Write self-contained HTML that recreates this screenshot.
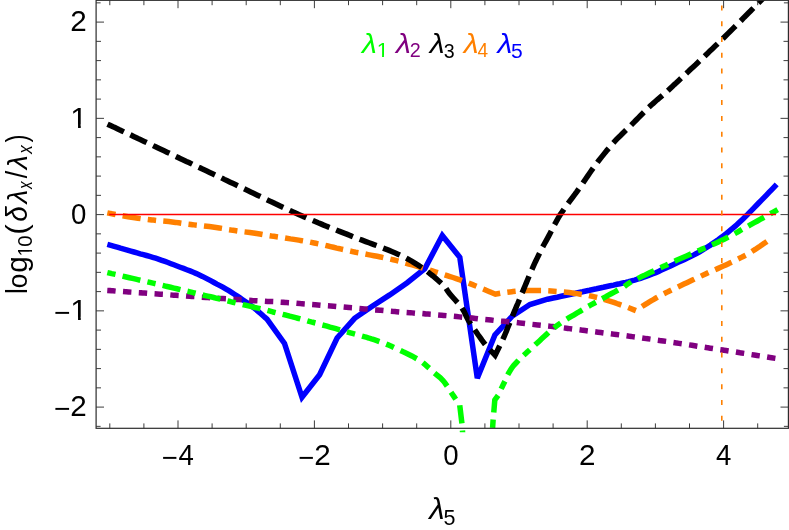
<!DOCTYPE html>
<html><head><meta charset="utf-8"><title>plot</title>
<style>
html,body{margin:0;padding:0;background:#fff;}
svg{display:block;will-change:transform;}
text{font-family:"Liberation Sans",sans-serif;}
</style></head><body>
<svg width="789" height="530" viewBox="0 0 789 530">
<rect x="0" y="0" width="789" height="530" fill="#fff"/>
<defs><clipPath id="cp"><rect x="90" y="-5" width="700" height="437.3"/></clipPath></defs>

<g clip-path="url(#cp)" fill="none" stroke-linejoin="miter" stroke-miterlimit="3.3" stroke-linecap="square">
<polyline points="110.0,245.2 111.8,245.7 114.3,246.4 117.2,247.2 120.5,248.2 123.9,249.1 127.4,250.1 130.8,251.1 134.0,252.0 137.1,252.9 140.2,253.8 143.4,254.6 146.5,255.5 149.7,256.4 152.7,257.3 155.6,258.2 158.4,259.1 161.8,260.3 165.0,261.4 168.0,262.5 171.0,263.7 173.9,264.8 177.0,266.0 180.2,267.2 183.5,268.4 186.8,269.7 190.0,270.9 193.3,272.3 196.4,273.6 199.4,275.0 202.4,276.4 205.3,277.9 208.2,279.4 211.1,280.9 214.0,282.5 216.9,284.1 219.9,285.6 222.8,287.2 225.7,288.9 228.8,290.7 231.9,292.6 234.4,294.2 236.9,295.8 239.6,297.6 242.2,299.4 244.9,301.2 247.5,303.0 249.9,304.8 252.2,306.5 255.2,308.8 258.1,311.3 260.9,313.7 263.4,316.0 265.5,317.8 267.0,319.2 284.5,343.5 302.0,397.3 319.6,374.8 337.1,338.0 354.6,318.3 372.2,306.3 389.7,294.9 407.2,282.7 424.8,268.7 442.3,235.5 459.8,257.3 477.3,378.2 494.9,335.0 512.4,316.0 529.9,304.5 547.5,299.2 549.9,298.7 553.2,298.0 557.2,297.2 561.2,296.3 565.0,295.5 568.5,294.8 572.0,294.0 575.5,293.3 579.0,292.5 582.5,291.8 586.0,291.0 589.5,290.3 593.0,289.5 596.5,288.8 600.0,288.0 603.4,287.3 606.8,286.5 610.2,285.8 613.6,285.1 617.0,284.3 619.9,283.7 622.8,283.0 625.7,282.4 628.7,281.7 631.6,280.9 634.6,280.1 637.6,279.2 640.6,278.3 643.7,277.2 646.7,276.2 649.9,275.0 653.0,273.8 655.8,272.7 658.6,271.4 661.4,270.1 664.3,268.8 667.1,267.5 669.9,266.2 672.6,264.9 675.7,263.5 678.7,262.1 681.7,260.7 684.6,259.4 687.4,258.1 690.0,256.8 693.5,255.1 696.5,253.5 699.6,251.8 703.1,249.7 705.4,248.3 707.8,246.7 710.4,245.1 713.0,243.3 715.6,241.5 718.2,239.7 720.8,237.8 723.3,235.9 725.9,233.9 728.4,231.8 731.0,229.7 733.5,227.6 736.1,225.4 738.6,223.1 740.8,221.0 743.0,218.9 745.2,216.8 747.4,214.6 749.6,212.3 751.8,210.1 754.0,207.8 756.3,205.5 758.7,203.0 761.3,200.4 764.0,197.6 766.7,194.8 769.2,192.2 771.5,189.8 773.4,187.8 774.8,186.3" stroke="#0000ff" stroke-width="5.5"/>
<polyline points="110.0,213.4 111.9,213.8 114.6,214.3 117.7,214.9 121.1,215.5 124.7,216.2 128.1,216.8 131.3,217.3 134.8,217.8 138.2,218.3 141.6,218.7 145.0,219.1 148.4,219.5 151.8,219.9 155.2,220.3 158.6,220.6 162.0,220.9 165.4,221.3 168.8,221.6 172.2,222.0 175.6,222.4 179.0,222.9 182.4,223.3 185.7,223.8 189.1,224.3 192.5,224.7 195.9,225.1 199.2,225.5 202.6,225.8 206.0,226.2 209.3,226.6 212.7,227.0 216.1,227.5 219.5,228.0 222.8,228.6 226.2,229.2 229.6,229.8 233.0,230.3 236.4,230.8 239.8,231.2 243.2,231.7 246.5,232.1 249.9,232.5 253.3,233.0 256.7,233.5 260.1,234.1 263.5,234.6 266.8,235.2 270.2,235.8 273.6,236.3 277.0,236.8 280.4,237.3 283.8,237.8 287.1,238.3 290.5,238.9 293.9,239.4 297.1,239.9 300.1,240.4 303.1,240.9 306.3,241.5 309.9,242.1 314.2,243.0 316.6,243.5 319.1,244.1 321.8,244.7 324.6,245.3 327.5,245.9 330.5,246.6 333.5,247.3 336.7,248.1 339.9,248.8 343.2,249.5 346.6,250.3 350.0,251.0 352.8,251.6 355.6,252.2 358.6,252.7 361.6,253.3 364.6,253.9 367.7,254.5 370.8,255.1 374.0,255.7 377.2,256.3 380.4,257.0 383.6,257.7 386.8,258.4 390.0,259.1 393.2,259.8 396.4,260.6 399.4,261.4 402.5,262.2 405.7,263.1 408.9,264.0 412.2,264.9 415.5,265.9 418.8,266.8 422.0,267.8 425.2,268.8 428.4,269.7 431.5,270.7 434.4,271.6 437.3,272.5 440.0,273.3 442.6,274.1 445.0,274.9 449.3,276.3 453.0,277.5 456.2,278.6 459.1,279.6 461.9,280.6 464.5,281.6 467.3,282.7 470.3,283.8 473.2,284.9 476.4,286.2 479.6,287.5 482.8,288.9 486.0,290.2 488.9,291.4 491.5,292.6 493.7,293.5 495.4,294.2 497.6,293.8 500.6,293.3 504.2,292.7 508.0,292.2 511.9,291.7 514.7,291.4 517.7,291.2 520.9,291.0 524.1,290.8 527.2,290.6 530.3,290.5 533.2,290.4 536.9,290.4 540.4,290.4 543.8,290.6 547.3,290.8 551.0,291.0 553.9,291.2 556.8,291.4 559.9,291.7 563.0,292.0 566.1,292.3 569.2,292.6 572.3,293.0 575.4,293.4 578.5,293.9 581.6,294.4 584.7,294.9 587.8,295.4 590.7,296.0 593.6,296.6 596.9,297.4 600.1,298.2 603.2,299.1 606.2,300.0 608.9,300.9 611.3,301.6 614.6,302.6 616.9,303.5 620.0,304.6 623.0,305.7 626.6,307.0 630.4,308.4 633.7,309.7 636.0,310.5 637.9,309.2 640.9,307.2 645.0,304.6 647.1,303.3 649.4,301.9 651.9,300.5 654.6,298.8 657.6,297.1 661.1,295.2 665.0,293.2 667.2,292.1 669.6,290.9 672.2,289.6 675.0,288.3 677.9,286.9 680.9,285.5 683.9,284.1 686.9,282.7 689.9,281.3 692.8,279.9 695.6,278.6 698.3,277.3 700.8,276.2 703.1,275.1 706.7,273.4 709.9,272.0 712.9,270.7 715.6,269.5 718.2,268.4 720.7,267.3 723.3,266.1 725.9,264.9 729.0,263.4 732.1,262.0 735.1,260.5 738.1,259.0 740.9,257.6 743.7,256.2 746.2,254.8 749.5,252.9 752.5,251.1 755.2,249.4 757.7,247.7 760.0,246.2 763.5,243.8 766.4,241.8 768.3,240.4" stroke="#ff8000" stroke-width="5.5" stroke-dasharray="2.9 12.700 12.700 12.700"/>
<polyline points="110.0,125.3 111.5,126.0 113.1,126.8 114.9,127.6 116.8,128.5 118.8,129.5 121.0,130.5 123.3,131.6 125.7,132.7 128.2,133.9 130.9,135.1 133.6,136.4 136.4,137.7 139.2,139.1 142.2,140.5 145.2,141.9 148.2,143.3 151.3,144.8 154.5,146.3 157.6,147.8 160.8,149.3 164.1,150.8 167.3,152.3 170.5,153.9 173.7,155.4 176.9,156.9 180.1,158.4 183.3,159.9 186.4,161.4 189.5,162.8 192.6,164.3 195.6,165.7 198.5,167.1 201.3,168.4 204.1,169.7 206.8,171.0 209.7,172.4 212.6,173.8 215.5,175.1 218.5,176.5 221.4,177.9 224.3,179.4 227.3,180.8 230.2,182.2 233.2,183.6 236.1,185.0 239.0,186.4 242.0,187.8 244.9,189.2 247.8,190.6 250.7,192.0 253.5,193.3 256.4,194.7 259.2,196.0 262.0,197.4 264.7,198.7 267.5,200.0 270.2,201.3 272.9,202.5 275.5,203.8 278.1,205.0 280.6,206.2 283.2,207.4 285.6,208.5 288.0,209.6 290.4,210.7 292.7,211.8 295.0,212.8 298.7,214.5 302.2,216.0 305.6,217.5 308.9,218.9 312.1,220.3 315.1,221.5 318.1,222.8 320.9,223.9 323.7,225.1 326.5,226.2 329.2,227.3 331.8,228.3 334.4,229.3 337.0,230.3 339.6,231.4 342.1,232.4 344.7,233.4 347.4,234.4 350.0,235.5 353.2,236.8 356.4,238.0 359.5,239.2 362.7,240.4 365.8,241.6 369.0,242.8 372.0,243.9 375.1,245.0 378.0,246.2 380.9,247.2 383.7,248.3 386.5,249.4 389.1,250.4 391.7,251.5 394.1,252.5 396.4,253.5 400.2,255.2 403.5,256.8 406.6,258.4 409.4,259.9 412.0,261.3 414.4,262.8 416.8,264.3 419.2,265.9 421.7,267.5 424.6,269.5 427.4,271.6 430.2,273.8 433.0,276.0 435.5,278.1 437.9,280.2 440.1,282.2 442.0,283.9 444.7,286.7 446.2,288.8 447.6,290.9 449.5,293.5 451.4,295.7 453.6,298.2 456.0,300.9 458.3,303.5 460.5,306.1 462.3,308.5 464.1,311.5 465.3,314.1 466.5,316.9 468.5,320.5 470.0,322.8 471.8,325.5 473.7,328.4 475.8,331.4 477.9,334.5 480.0,337.4 481.9,340.1 483.7,342.5 486.4,345.9 489.1,348.9 491.5,351.5 493.6,353.7 495.1,355.3 496.1,353.3 497.4,350.6 499.0,347.3 500.8,343.8 502.5,340.2 504.0,336.8 505.2,334.0 506.4,331.1 507.6,328.1 508.8,325.2 510.0,322.2 511.1,319.4 512.2,316.7 513.4,313.9 514.4,311.4 515.5,309.0 516.5,306.4 517.8,303.5 519.2,300.1 520.2,297.7 521.3,294.9 522.5,292.0 523.8,288.9 525.1,285.8 526.4,282.6 527.7,279.5 528.9,276.5 530.1,273.7 531.2,271.1 532.9,267.3 534.4,263.9 535.9,260.8 537.3,257.9 538.7,255.0 540.1,252.1 541.5,249.3 542.9,246.6 544.3,244.0 545.8,241.3 547.3,238.6 548.9,235.6 550.3,232.9 551.8,230.1 553.2,227.2 554.8,224.2 556.5,221.1 558.3,217.9 560.3,214.6 561.9,212.2 563.5,209.8 565.3,207.2 567.2,204.7 569.1,202.1 571.1,199.4 573.0,196.8 575.0,194.2 576.9,191.6 578.7,189.0 580.5,186.4 582.3,183.9 584.1,181.3 585.8,178.7 587.6,176.1 589.4,173.5 591.1,171.0 592.9,168.5 594.6,166.1 596.4,163.7 598.4,161.1 600.3,158.6 602.3,156.1 604.3,153.6 606.2,151.2 608.2,148.9 610.2,146.6 612.1,144.3 614.1,142.1 616.3,139.7 618.5,137.4 620.8,135.2 623.0,133.0 625.2,130.9 627.5,128.7 629.7,126.6 631.9,124.4 634.1,122.2 636.2,120.0 638.3,117.8 640.4,115.7 642.6,113.5 644.8,111.2 647.1,109.0 649.6,106.6 651.6,104.8 653.5,103.1 655.3,101.5 657.2,99.8 659.2,98.1 661.3,96.3 663.7,94.3 666.3,91.9 669.3,89.3 672.6,86.2 674.3,84.6 676.1,83.0 678.0,81.2 679.9,79.4 682.0,77.4 684.1,75.4 686.3,73.4 688.6,71.3 690.9,69.1 693.2,66.9 695.6,64.7 698.0,62.4 700.4,60.1 702.8,57.9 705.2,55.6 707.5,53.4 709.9,51.1 712.2,48.9 714.4,46.8 716.6,44.7 718.7,42.6 720.8,40.6 723.2,38.3 725.5,36.0 727.9,33.6 730.3,31.3 732.7,28.9 735.1,26.5 737.4,24.1 739.8,21.8 742.1,19.5 744.3,17.2 746.5,15.0 748.7,12.8 750.8,10.7 752.8,8.7 754.7,6.7 756.5,4.9 758.3,3.1 759.9,1.5 761.4,0.0 765.5,-4.0 768.7,-7.2 771.2,-9.5 773.2,-11.4 774.7,-12.8 776.0,-14.0" stroke="#000" stroke-width="5.5" stroke-dasharray="12.600 12.600"/>
<polyline points="110.0,290.6 111.7,290.7 113.6,290.9 115.7,291.0 118.1,291.2 120.6,291.4 123.4,291.6 126.3,291.8 129.4,292.0 132.5,292.2 135.8,292.5 139.2,292.7 142.7,292.9 146.2,293.2 149.7,293.5 153.3,293.7 156.8,294.0 160.3,294.2 163.8,294.5 167.2,294.7 170.6,294.9 173.9,295.2 177.0,295.4 180.0,295.6 183.2,295.8 186.5,296.0 189.7,296.3 193.0,296.5 196.3,296.7 199.6,297.0 202.8,297.2 206.1,297.4 209.3,297.6 212.5,297.8 215.7,298.1 218.9,298.3 222.0,298.5 225.1,298.7 228.1,298.9 231.1,299.1 234.0,299.3 236.9,299.5 239.7,299.6 242.4,299.8 245.0,300.0 248.8,300.2 252.3,300.5 255.7,300.7 258.9,300.9 261.9,301.0 264.9,301.2 267.8,301.4 270.7,301.5 273.6,301.7 276.4,301.9 279.4,302.1 282.4,302.3 285.6,302.5 288.9,302.7 291.7,302.9 294.6,303.1 297.4,303.3 300.3,303.6 303.3,303.8 306.2,304.0 309.2,304.3 312.2,304.5 315.3,304.7 318.3,305.0 321.4,305.3 324.5,305.5 327.6,305.8 330.7,306.0 333.8,306.3 336.9,306.5 340.0,306.8 343.0,307.0 346.0,307.3 349.0,307.6 352.1,307.8 355.1,308.1 358.2,308.3 361.3,308.6 364.5,308.9 367.6,309.2 370.7,309.4 373.8,309.7 376.9,310.0 380.0,310.2 383.0,310.5 386.1,310.8 389.1,311.0 392.1,311.3 395.0,311.5 398.2,311.8 401.4,312.0 404.5,312.3 407.5,312.5 410.5,312.7 413.5,313.0 416.5,313.2 419.5,313.4 422.5,313.6 425.5,313.9 428.6,314.1 431.7,314.4 434.9,314.6 438.1,314.9 441.5,315.2 445.0,315.5 447.8,315.8 450.6,316.0 453.5,316.3 456.6,316.6 459.6,316.9 462.8,317.2 465.9,317.5 469.2,317.8 472.4,318.1 475.6,318.5 478.8,318.8 482.1,319.1 485.2,319.4 488.4,319.7 491.5,320.1 494.5,320.4 497.5,320.7 500.4,321.0 503.2,321.3 505.8,321.5 508.4,321.8 512.3,322.2 516.0,322.6 519.4,322.9 522.7,323.3 525.8,323.6 528.9,323.9 531.8,324.3 534.7,324.6 537.7,324.9 540.6,325.2 543.6,325.6 546.7,325.9 550.0,326.3 552.9,326.6 555.8,327.0 558.8,327.3 561.8,327.7 564.7,328.0 567.8,328.4 570.8,328.8 573.8,329.1 576.8,329.5 579.9,329.9 582.9,330.3 585.9,330.7 589.0,331.0 592.0,331.4 595.0,331.8 598.0,332.2 601.0,332.6 604.1,333.0 607.1,333.3 610.2,333.7 613.2,334.1 616.3,334.5 619.3,334.9 622.4,335.3 625.4,335.7 628.4,336.1 631.3,336.5 634.3,336.9 637.1,337.3 640.0,337.7 643.2,338.1 646.3,338.6 649.4,339.0 652.3,339.4 655.3,339.9 658.2,340.3 661.2,340.7 664.1,341.1 667.1,341.6 670.2,342.0 673.3,342.5 676.6,343.0 680.0,343.5 682.9,343.9 685.8,344.4 688.8,344.8 691.9,345.3 695.0,345.8 698.2,346.3 701.4,346.8 704.7,347.3 707.9,347.8 711.2,348.3 714.4,348.8 717.6,349.3 720.8,349.8 723.9,350.2 727.0,350.7 730.0,351.2 733.3,351.7 736.6,352.2 740.1,352.8 743.6,353.3 747.1,353.9 750.6,354.5 754.1,355.0 757.4,355.5 760.7,356.1 763.7,356.6 766.6,357.0 769.2,357.4 771.6,357.8 773.6,358.1 775.3,358.4" stroke="#800080" stroke-width="5.5" stroke-dasharray="2.9 12.900"/>
<polyline points="110.0,273.2 111.7,273.6 113.6,274.0 115.7,274.5 118.1,275.1 120.6,275.7 123.4,276.3 126.3,277.0 129.4,277.7 132.5,278.4 135.8,279.2 139.2,280.0 142.7,280.8 146.2,281.6 149.7,282.4 153.3,283.2 156.8,284.1 160.3,284.9 163.8,285.7 167.2,286.5 170.6,287.3 173.9,288.1 177.0,288.8 180.0,289.5 183.1,290.2 186.2,291.0 189.2,291.7 192.3,292.4 195.4,293.2 198.5,293.9 201.5,294.6 204.6,295.4 207.7,296.1 210.7,296.8 213.7,297.5 216.7,298.3 219.7,299.0 222.6,299.7 225.5,300.4 228.4,301.1 231.3,301.8 234.1,302.5 236.9,303.1 239.6,303.8 242.3,304.5 245.0,305.1 248.4,305.9 251.6,306.7 254.8,307.5 257.9,308.2 261.0,309.0 264.0,309.7 266.9,310.4 269.8,311.1 272.7,311.9 275.5,312.6 278.4,313.3 281.2,314.0 284.1,314.7 286.9,315.4 289.8,316.2 292.7,316.9 295.7,317.7 298.7,318.5 301.8,319.3 304.9,320.2 308.1,321.0 311.2,321.9 314.4,322.7 317.6,323.6 320.7,324.5 323.9,325.4 327.0,326.2 330.0,327.1 333.0,327.9 335.9,328.7 338.7,329.5 341.4,330.3 343.9,331.0 346.4,331.7 350.3,332.8 353.9,333.8 357.2,334.7 360.4,335.6 363.3,336.4 366.1,337.2 368.8,338.0 371.5,338.9 374.1,339.7 376.8,340.6 380.1,341.8 383.2,342.9 386.2,344.1 389.1,345.3 391.9,346.6 394.7,347.8 397.4,349.0 400.1,350.3 403.2,351.8 406.3,353.2 409.3,354.7 412.3,356.2 415.1,357.8 417.8,359.3 420.3,360.9 423.0,362.8 425.5,364.9 427.8,366.9 430.0,368.9 432.1,370.9 434.0,372.6 437.3,375.3 440.1,377.6 443.0,380.5 444.9,382.9 446.9,385.8 448.8,388.8 450.7,391.7 452.5,394.4 454.6,397.5 456.7,400.6 458.5,403.2 459.7,405.0 461.7,421.5 463.2,440.0" stroke="#00ff00" stroke-width="5.5" stroke-dasharray="2.9 12.750 12.750 12.750"/>
<polyline points="775.3,211.0 773.7,211.9 771.7,213.0 769.3,214.4 766.6,215.9 763.7,217.5 760.6,219.2 757.4,221.0 754.3,222.7 751.2,224.4 748.7,225.8 746.2,227.2 743.7,228.6 741.1,230.0 738.5,231.5 735.8,233.0 733.1,234.5 730.2,236.1 727.2,237.6 724.1,239.2 720.8,240.8 718.3,242.0 715.7,243.2 713.0,244.4 710.2,245.6 707.4,246.9 704.5,248.2 701.5,249.4 698.6,250.7 695.5,252.0 692.5,253.3 689.5,254.6 686.5,255.9 683.5,257.2 680.6,258.5 677.7,259.8 674.8,261.1 671.7,262.5 668.6,264.0 665.4,265.5 662.2,266.9 659.0,268.4 655.8,269.9 652.7,271.4 649.6,272.8 646.7,274.2 643.9,275.6 641.2,276.8 638.8,278.0 636.6,279.1 634.6,280.1 629.7,282.7 627.4,284.2 625.6,285.6 622.4,287.6 620.1,288.9 617.5,290.3 614.7,291.9 611.6,293.5 608.5,295.2 605.5,296.9 602.5,298.5 599.6,300.1 597.1,301.5 593.8,303.4 590.8,305.0 588.1,306.6 585.4,308.2 582.5,309.8 579.4,311.7 576.8,313.2 574.1,314.8 571.3,316.4 568.5,318.1 565.6,319.8 562.7,321.6 559.9,323.5 557.2,325.4 554.6,327.4 552.0,329.5 549.4,331.7 546.9,334.0 544.4,336.3 541.9,338.6 539.4,340.9 536.9,343.2 534.6,345.3 532.2,347.5 529.7,349.8 527.2,352.1 524.8,354.3 522.5,356.5 520.3,358.6 518.4,360.5 516.7,362.2 513.8,365.4 511.9,367.8 510.5,370.0 509.1,372.3 507.3,375.6 505.9,378.9 504.6,381.9 502.9,385.3 501.3,388.5 499.3,392.6 497.4,396.4 494.8,400.0 493.1,420.2 491.8,440.0" stroke="#00ff00" stroke-width="5.5" stroke-dasharray="2.9 12.650 12.650 12.650"/>
<line x1="110.0" y1="214.6" x2="775.3" y2="214.6" stroke="#ff0000" stroke-width="1.5"/>
<line x1="721.8" y1="420.7" x2="721.8" y2="-20" stroke="#ff8000" stroke-width="1.6" stroke-dasharray="5 10.78" stroke-linecap="butt"/>
</g>
<rect x="96.1" y="0.3" width="692.3" height="428.0" fill="none" stroke="#2c2c2c" stroke-width="1.2"/>
<path d="M109.80 428.3 v-4.9 M109.80 0.3 v4.9 M143.90 428.3 v-4.9 M143.90 0.3 v4.9 M178.00 428.3 v-7.9 M178.00 0.3 v7.9 M212.10 428.3 v-4.9 M212.10 0.3 v4.9 M246.20 428.3 v-4.9 M246.20 0.3 v4.9 M280.30 428.3 v-4.9 M280.30 0.3 v4.9 M314.40 428.3 v-7.9 M314.40 0.3 v7.9 M348.50 428.3 v-4.9 M348.50 0.3 v4.9 M382.60 428.3 v-4.9 M382.60 0.3 v4.9 M416.70 428.3 v-4.9 M416.70 0.3 v4.9 M450.80 428.3 v-7.9 M450.80 0.3 v7.9 M484.90 428.3 v-4.9 M484.90 0.3 v4.9 M519.00 428.3 v-4.9 M519.00 0.3 v4.9 M553.10 428.3 v-4.9 M553.10 0.3 v4.9 M587.20 428.3 v-7.9 M587.20 0.3 v7.9 M621.30 428.3 v-4.9 M621.30 0.3 v4.9 M655.40 428.3 v-4.9 M655.40 0.3 v4.9 M689.50 428.3 v-4.9 M689.50 0.3 v4.9 M723.60 428.3 v-7.9 M723.60 0.3 v7.9 M757.70 428.3 v-4.9 M757.70 0.3 v4.9 M96.1 426.35 h4.5 M788.4 426.35 h-4.5 M96.1 407.10 h7.9 M788.4 407.10 h-7.9 M96.1 387.85 h4.9 M788.4 387.85 h-4.9 M96.1 368.60 h4.9 M788.4 368.60 h-4.9 M96.1 349.35 h4.9 M788.4 349.35 h-4.9 M96.1 330.10 h4.9 M788.4 330.10 h-4.9 M96.1 310.85 h7.9 M788.4 310.85 h-7.9 M96.1 291.60 h4.9 M788.4 291.60 h-4.9 M96.1 272.35 h4.9 M788.4 272.35 h-4.9 M96.1 253.10 h4.9 M788.4 253.10 h-4.9 M96.1 233.85 h4.9 M788.4 233.85 h-4.9 M96.1 214.60 h7.9 M788.4 214.60 h-7.9 M96.1 195.35 h4.9 M788.4 195.35 h-4.9 M96.1 176.10 h4.9 M788.4 176.10 h-4.9 M96.1 156.85 h4.9 M788.4 156.85 h-4.9 M96.1 137.60 h4.9 M788.4 137.60 h-4.9 M96.1 118.35 h7.9 M788.4 118.35 h-7.9 M96.1 99.10 h4.9 M788.4 99.10 h-4.9 M96.1 79.85 h4.9 M788.4 79.85 h-4.9 M96.1 60.60 h4.9 M788.4 60.60 h-4.9 M96.1 41.35 h4.9 M788.4 41.35 h-4.9 M96.1 22.10 h7.9 M788.4 22.10 h-7.9 M96.1 2.85 h4.5 M788.4 2.85 h-4.5" fill="none" stroke="#333" stroke-width="0.95"/>
<text transform="translate(161.85,466.73) scale(0.2738,0.2805)" font-size="100" fill="#000">−</text>
<text transform="translate(178.62,464.75) scale(0.2758,0.2951)" font-size="100" fill="#000">4</text>
<text transform="translate(298.25,466.73) scale(0.2738,0.2805)" font-size="100" fill="#000">−</text>
<text transform="translate(314.16,464.75) scale(0.2963,0.2950)" font-size="100" fill="#000">2</text>
<text transform="translate(443.22,464.76) scale(0.2761,0.2952)" font-size="100" fill="#000">0</text>
<text transform="translate(579.06,464.75) scale(0.2963,0.2950)" font-size="100" fill="#000">2</text>
<text transform="translate(716.12,464.75) scale(0.2758,0.2951)" font-size="100" fill="#000">4</text>
<text transform="translate(70.26,416.25) scale(0.2963,0.2950)" font-size="100" fill="#000">2</text>
<text transform="translate(54.01,418.23) scale(0.2820,0.2805)" font-size="100" fill="#000">−</text>
<text transform="translate(70.29,320.00) scale(0.3078,0.2951)" font-size="100" fill="#000">1</text><rect x="71.73" y="316.80" width="6.30" height="4.20" fill="#fff"/><rect x="80.75" y="316.80" width="6.06" height="4.20" fill="#fff"/>
<text transform="translate(54.01,321.98) scale(0.2820,0.2805)" font-size="100" fill="#000">−</text>
<text transform="translate(70.97,223.76) scale(0.2761,0.2952)" font-size="100" fill="#000">0</text>
<text transform="translate(70.29,127.50) scale(0.3078,0.2951)" font-size="100" fill="#000">1</text><rect x="71.73" y="124.30" width="6.30" height="4.20" fill="#fff"/><rect x="80.75" y="124.30" width="6.06" height="4.20" fill="#fff"/>
<text transform="translate(70.26,31.25) scale(0.2963,0.2950)" font-size="100" fill="#000">2</text>
<text transform="translate(362.12,52.65) scale(0.3014,0.2705)" font-size="100" font-style="italic" fill="#00ff00">λ</text>
<text transform="translate(376.70,57.45) scale(0.2134,0.1962)" font-size="100" fill="#00ff00">1</text><rect x="377.42" y="54.98" width="4.64" height="3.47" fill="#fff"/><rect x="383.95" y="54.98" width="4.47" height="3.47" fill="#fff"/>
<text transform="translate(395.97,52.65) scale(0.3014,0.2705)" font-size="100" font-style="italic" fill="#800080">λ</text>
<text transform="translate(409.86,57.45) scale(0.1976,0.1962)" font-size="100" fill="#800080">2</text>
<text transform="translate(429.82,52.65) scale(0.3014,0.2705)" font-size="100" font-style="italic" fill="#000">λ</text>
<text transform="translate(443.70,57.51) scale(0.1962,0.1970)" font-size="100" fill="#000">3</text>
<text transform="translate(463.67,52.65) scale(0.3014,0.2705)" font-size="100" font-style="italic" fill="#ff8000">λ</text>
<text transform="translate(477.61,57.45) scale(0.1905,0.1962)" font-size="100" fill="#ff8000">4</text>
<text transform="translate(497.52,52.65) scale(0.3014,0.2705)" font-size="100" font-style="italic" fill="#0000ff">λ</text>
<text transform="translate(511.01,57.51) scale(0.2109,0.1971)" font-size="100" fill="#0000ff">5</text>
<text transform="translate(429.27,518.75) scale(0.3117,0.2871)" font-size="100" font-style="italic" fill="#000">λ</text>
<text transform="translate(443.39,524.84) scale(0.2151,0.2121)" font-size="100" fill="#000">5</text>
<g transform="translate(27,292.6) rotate(-90)">
<text transform="translate(-1.51,-0.25) scale(0.2617,0.2884)" font-size="100" fill="#000">l</text>
<text transform="translate(4.46,-0.22) scale(0.2605,0.2756)" font-size="100" fill="#000">o</text>
<text transform="translate(19.90,0.45) scale(0.2980,0.2889)" font-size="100" fill="#000">g</text>
<text transform="translate(45.86,5.35) scale(0.2029,0.2062)" font-size="100" fill="#000">0</text>
<text transform="translate(57.79,-0.31) scale(0.3168,0.2877)" font-size="100" fill="#000">(</text>
<text transform="translate(70.94,0.07) scale(0.2783,0.2914)" font-size="100" font-style="italic" fill="#000">δ</text>
<text transform="translate(89.03,-0.15) scale(0.2808,0.2815)" font-size="100" font-style="italic" fill="#000">λ</text>
<text transform="translate(103.56,4.75) scale(0.1528,0.1987)" font-size="100" font-style="italic" fill="#000">x</text>
<text transform="translate(114.35,0.17) scale(0.2663,0.2873)" font-size="100" fill="#000">/</text>
<text transform="translate(123.45,-0.15) scale(0.2870,0.2815)" font-size="100" font-style="italic" fill="#000">λ</text>
<text transform="translate(138.93,4.75) scale(0.1704,0.1987)" font-size="100" font-style="italic" fill="#000">x</text>
<text transform="translate(150.01,-0.18) scale(0.2414,0.2866)" font-size="100" fill="#000">)</text>
<text transform="translate(36.41,5.05) scale(0.1806,0.2049)" font-size="100" fill="#000">1</text><rect x="36.89" y="2.52" width="4.07" height="3.53" fill="#fff"/><rect x="42.55" y="2.52" width="3.37" height="3.53" fill="#fff"/>
</g>
</svg></body></html>
